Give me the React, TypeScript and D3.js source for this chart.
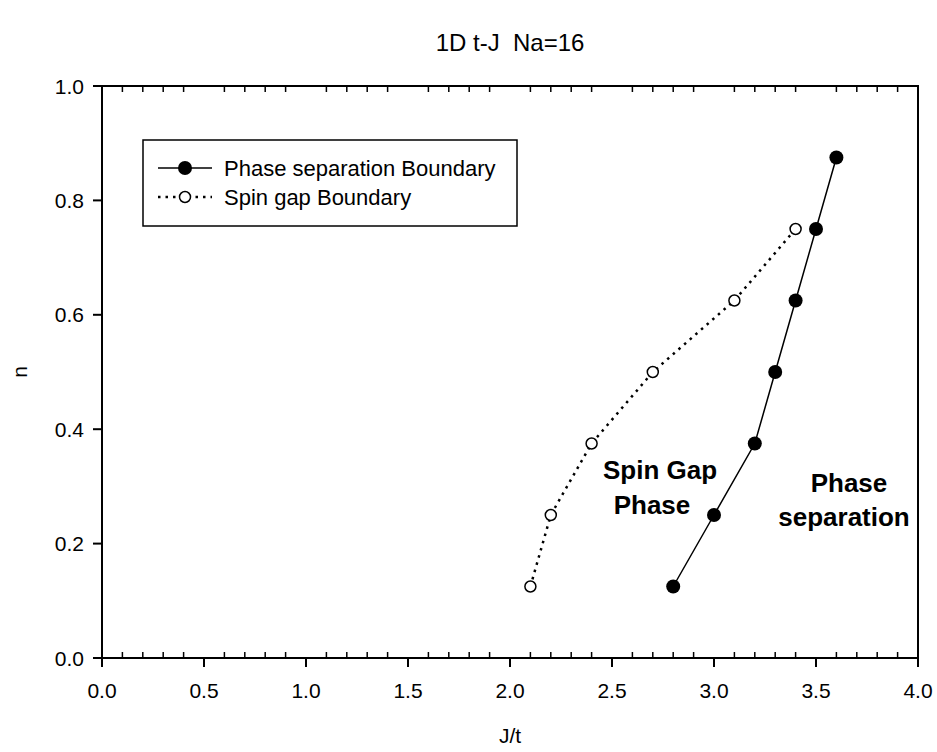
import React from "react";
import * as d3 from "d3";

const psJ = [2.8, 3.0, 3.2, 3.3, 3.4, 3.5, 3.6];
const psN = [0.125, 0.25, 0.375, 0.5, 0.625, 0.75, 0.875];
const sgJ = [2.1, 2.2, 2.4, 2.7, 3.1, 3.4];
const sgN = [0.125, 0.25, 0.375, 0.5, 0.625, 0.75];
const xMajor = [0, 0.5, 1.0, 1.5, 2.0, 2.5, 3.0, 3.5, 4.0];
const yMajor = [0, 0.2, 0.4, 0.6, 0.8, 1.0];
const legendLabels = ["Phase separation Boundary", "Spin gap Boundary"];
const title = "1D t-J\u00a0\u00a0Na=16";

const W = 937, H = 752;
const L = 102, R = 918, T = 86, B = 658;
const FONT = "Arial, 'Liberation Sans', Helvetica, sans-serif";

export default function App() {
  const x = d3.scaleLinear().domain([0, 4]).range([L, R]);
  const y = d3.scaleLinear().domain([0, 1]).range([B, T]);
  const minorX = d3.range(0, 41).map(i => i / 10).filter(v => Math.abs(v * 2 - Math.round(v * 2)) > 1e-6);
  const line = d3.line<[number, number]>().x(d => x(d[0])).y(d => y(d[1]));
  const ps: [number, number][] = psJ.map((v, i) => [v, psN[i]]);
  const sg: [number, number][] = sgJ.map((v, i) => [v, sgN[i]]);

  return (
    <svg width={W} height={H} style={{ position: "absolute", left: 0, top: 0, background: "#fff" }} fontFamily={FONT}>
      <rect x={0} y={0} width={W} height={H} fill="#fff" />
      <text x={(L + R) / 2} y={51} textAnchor="middle" fontSize={24}>{title}</text>
      {/* frame */}
      <rect x={L} y={T} width={R - L} height={B - T} fill="none" stroke="#000" strokeWidth={2} />
      {/* bottom major ticks */}
      {xMajor.map((v, i) => (
        <g key={"xm" + i}>
          <line x1={x(v)} x2={x(v)} y1={B} y2={B + 9} stroke="#000" strokeWidth={2} />
          <text x={x(v)} y={B + 40} textAnchor="middle" fontSize={21}>{v.toFixed(1)}</text>
        </g>
      ))}
      {minorX.map((v, i) => (
        <g key={"xn" + i}>
          <line x1={x(v)} x2={x(v)} y1={B} y2={B - 6} stroke="#000" strokeWidth={1.5} />
          <line x1={x(v)} x2={x(v)} y1={T} y2={T + 6} stroke="#000" strokeWidth={1.5} />
        </g>
      ))}
      {yMajor.map((v, i) => (
        <g key={"ym" + i}>
          <line x1={L - 9} x2={L} y1={y(v)} y2={y(v)} stroke="#000" strokeWidth={2} />
          <text x={L - 18} y={y(v) + 7.5} textAnchor="end" fontSize={21}>{v.toFixed(1)}</text>
        </g>
      ))}
      <text x={(L + R) / 2} y={743} textAnchor="middle" fontSize={21}>J/t</text>
      <text transform={`translate(27,${(T + B) / 2}) rotate(-90)`} textAnchor="middle" fontSize={21}>n</text>

      {/* series */}
      <path d={line(sg) || ""} fill="none" stroke="#000" strokeWidth={2.5} strokeDasharray="2.5,5" />
      <path d={line(ps) || ""} fill="none" stroke="#000" strokeWidth={1.5} />
      {ps.map((d, i) => <circle key={"p" + i} cx={x(d[0])} cy={y(d[1])} r={7} fill="#000" />)}
      {sg.map((d, i) => <circle key={"s" + i} cx={x(d[0])} cy={y(d[1])} r={5.5} fill="#fff" stroke="#000" strokeWidth={1.5} />)}

      {/* legend */}
      <rect x={143} y={140} width={374} height={86} fill="#fff" stroke="#000" strokeWidth={1.5} />
      <line x1={158} x2={212} y1={168} y2={168} stroke="#000" strokeWidth={1.5} />
      <circle cx={185} cy={168} r={7} fill="#000" />
      <text x={224} y={176} fontSize={22}>{legendLabels[0]}</text>
      <line x1={158} x2={212} y1={197} y2={197} stroke="#000" strokeWidth={2.5} strokeDasharray="2.5,5" />
      <circle cx={185} cy={197} r={5.5} fill="#fff" stroke="#000" strokeWidth={1.5} />
      <text x={224} y={205} fontSize={22}>{legendLabels[1]}</text>

      {/* annotations */}
      <text x={660} y={479} textAnchor="middle" fontSize={26} fontWeight="bold">Spin Gap</text>
      <text x={652} y={514} textAnchor="middle" fontSize={26} fontWeight="bold">Phase</text>
      <text x={849} y={492} textAnchor="middle" fontSize={26} fontWeight="bold">Phase</text>
      <text x={844} y={526} textAnchor="middle" fontSize={26} fontWeight="bold">separation</text>
    </svg>
  );
}
